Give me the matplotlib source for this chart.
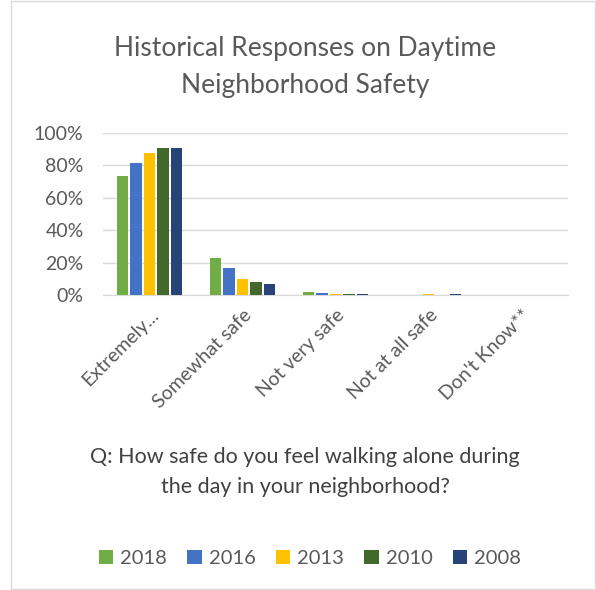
import matplotlib.pyplot as plt
import numpy as np

categories = ["Extremely...", "Somewhat safe", "Not very safe", "Not at all safe", "Don't Know**"]
years = ["2018", "2016", "2013", "2010", "2008"]
v2018 = [73.5, 22.8, 2.0, 0.3, 0.0]
v2016 = [81.5, 16.7, 1.0, 0.2, 0.0]
v2013 = [87.7, 9.9, 0.8, 0.5, 0.0]
v2010 = [90.7, 8.0, 0.6, 0.0, 0.0]
v2008 = [90.7, 6.8, 0.6, 0.8, 0.0]
colors = ["#70AD47", "#4472C4", "#FFC000", "#43682B", "#264478"]

plt.rcParams['font.family'] = ['Lato', 'DejaVu Sans']
fig = plt.figure(figsize=(5.96, 5.90), dpi=100)
ax = fig.add_axes([103 / 596, 0.5, 465 / 596, 0.275])

series = [v2018, v2016, v2013, v2010, v2008]
x = np.arange(len(categories))
w = 0.146
for i, (vals, c, y) in enumerate(zip(series, colors, years)):
    ax.bar(x + (i - 2) * w, vals, w * 0.86, color=c, label=y, zorder=3)

ax.set_xlim(-0.5, 4.5)
ax.set_ylim(0, 100)
ax.set_yticks(np.arange(0, 101, 20))
ax.set_yticklabels([f"{t}%" for t in range(0, 101, 20)], fontsize=14, color="#595959")
ax.grid(axis='y', color="#D9D9D9", linewidth=1, zorder=0)
for s in ['top', 'right', 'left']:
    ax.spines[s].set_visible(False)
ax.spines['bottom'].set_color("#D9D9D9")
ax.tick_params(axis='y', length=0, pad=14)
ax.tick_params(axis='x', length=0, pad=8)
ax.set_xticks(x)
ax.set_xticklabels(categories, rotation=45, ha='right', rotation_mode='anchor',
                   fontsize=14, color="#595959")

fig.text(0.512, 0.887, "Historical Responses on Daytime\nNeighborhood Safety",
         ha='center', va='center', fontsize=19, color="#595959", linespacing=1.6)
fig.text(0.512, 0.2, "Q: How safe do you feel walking alone during\nthe day in your neighborhood?",
         ha='center', va='center', fontsize=15.5, color="#404040", linespacing=1.6)

fig.legend(loc='center', bbox_to_anchor=(0.52, 0.053), ncol=5, frameon=False,
           fontsize=14.5, handlelength=0.72, handleheight=0.72, handletextpad=0.35,
           columnspacing=1.0, labelcolor="#595959")

fig.add_artist(plt.Rectangle((0.018, 0.002), 0.98, 0.996, transform=fig.transFigure,
                             fill=False, edgecolor="#D9D9D9", linewidth=1))

fig.savefig("out.png", dpi=100)
